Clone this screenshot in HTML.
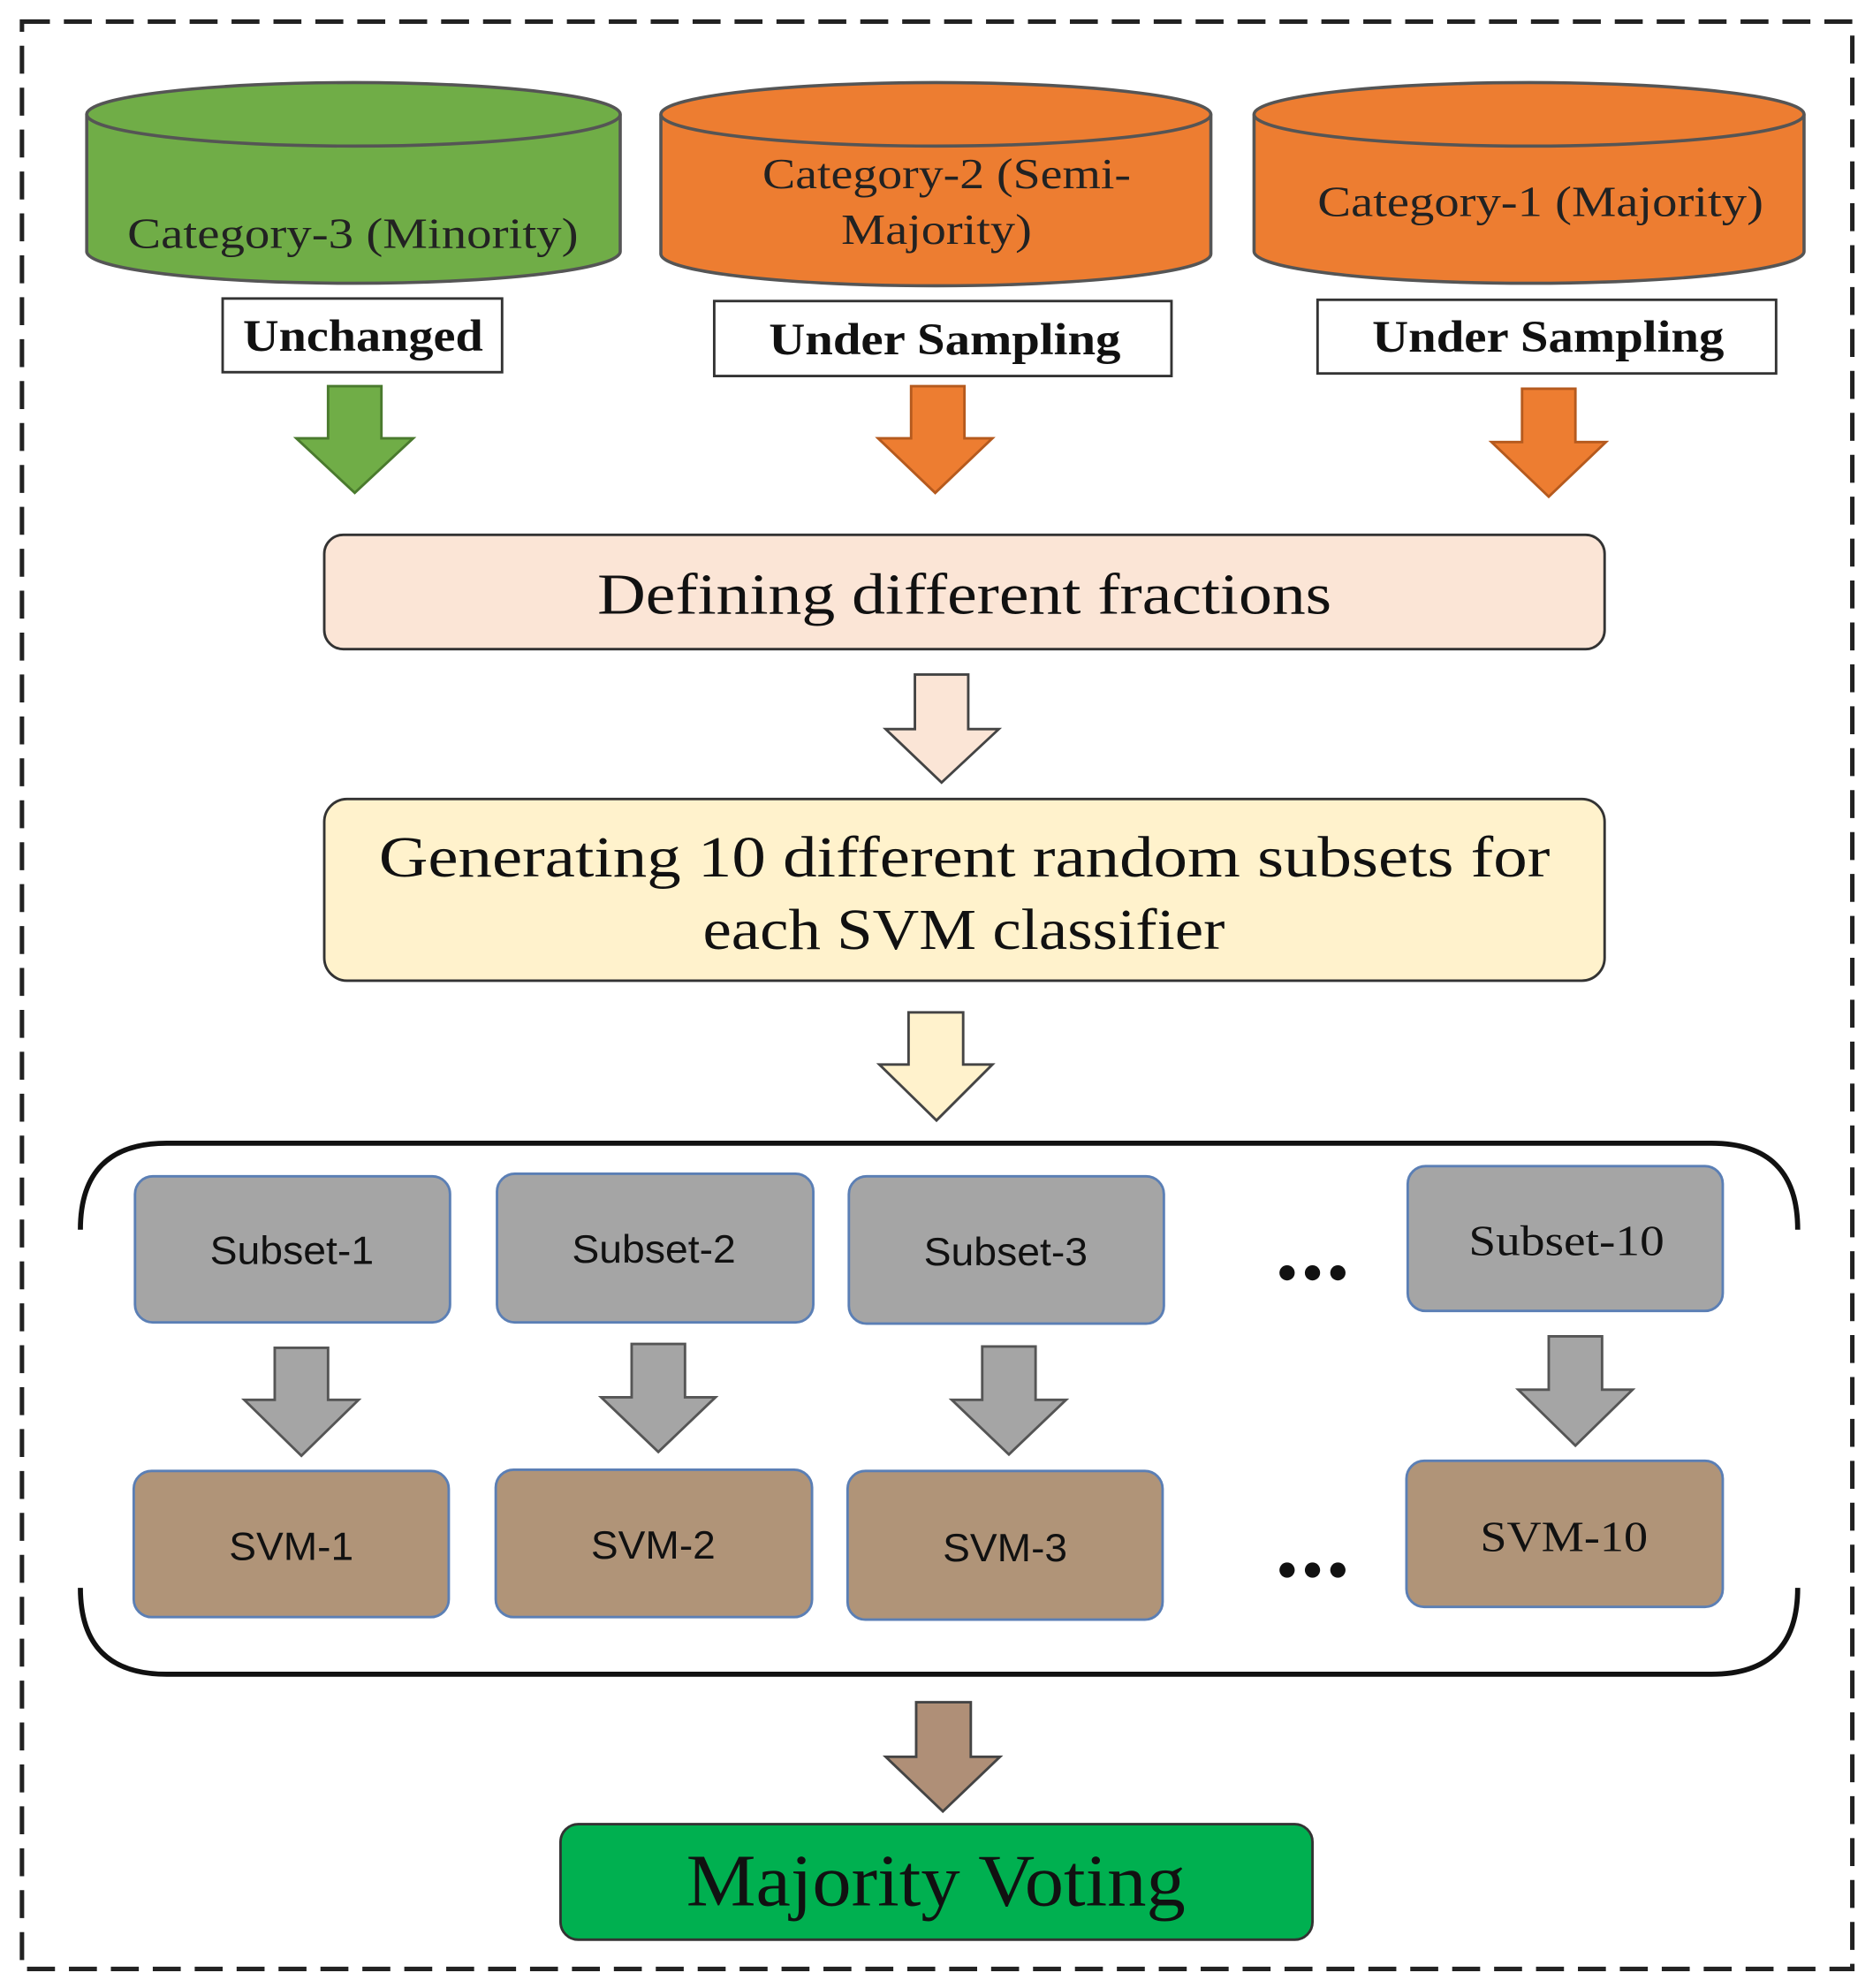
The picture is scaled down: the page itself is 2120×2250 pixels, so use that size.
<!DOCTYPE html>
<html><head><meta charset="utf-8"><style>
html,body{margin:0;padding:0;background:#fff}
svg{display:block}
.serif{font-family:"Liberation Serif","DejaVu Serif",serif}
.sans{font-family:"Liberation Sans","DejaVu Sans",sans-serif}
</style></head><body>
<svg width="2120" height="2250" viewBox="0 0 1474 1565" xmlns="http://www.w3.org/2000/svg">
<rect x="17" y="17" width="1441" height="1533" fill="none" stroke="#222" stroke-width="3.5" stroke-dasharray="22,11"/>

<g stroke="#555" stroke-width="2.5">
<path d="M68,90 L68,198 A210,25 0 0 0 488,198 L488,90" fill="#70AD47"/>
<ellipse cx="278" cy="90" rx="210" ry="25" fill="#70AD47"/>
<path d="M520,90 L520,200 A216.5,25 0 0 0 953,200 L953,90" fill="#ED7D31"/>
<ellipse cx="736.5" cy="90" rx="216.5" ry="25" fill="#ED7D31"/>
<path d="M987,90 L987,198 A216.5,25 0 0 0 1420,198 L1420,90" fill="#ED7D31"/>
<ellipse cx="1203.5" cy="90" rx="216.5" ry="25" fill="#ED7D31"/>
</g>
<g class="serif" font-size="34" fill="#222" lengthAdjust="spacingAndGlyphs">
<text x="100" y="195" textLength="355" lengthAdjust="spacingAndGlyphs">Category-3 (Minority)</text>
<text x="600" y="148" textLength="290" lengthAdjust="spacingAndGlyphs">Category-2 (Semi-</text>
<text x="662" y="192" textLength="150" lengthAdjust="spacingAndGlyphs">Majority)</text>
<text x="1037" y="170" textLength="351" lengthAdjust="spacingAndGlyphs">Category-1 (Majority)</text>
</g>

<g fill="#fff" stroke="#333" stroke-width="2">
<rect x="175" y="235" width="220" height="58"/>
<rect x="562" y="237" width="360" height="59"/>
<rect x="1037" y="236" width="361" height="58"/>
</g>
<g class="serif" font-size="35" font-weight="bold" fill="#111">
<text x="191" y="276" textLength="189" lengthAdjust="spacingAndGlyphs">Unchanged</text>
<text x="605" y="279" textLength="277" lengthAdjust="spacingAndGlyphs">Under Sampling</text>
<text x="1080" y="277" textLength="277" lengthAdjust="spacingAndGlyphs">Under Sampling</text>
</g>

<g stroke-width="2" stroke-linejoin="miter">
<path d="M258,304 H300 V345 H325 L279,388 L233,345 H258 Z" fill="#70AD47" stroke="#4a7a2e"/>
<path d="M717,304 H759 V345 H781 L736,388 L691,345 H717 Z" fill="#ED7D31" stroke="#b55a1e"/>
<path d="M1198,306 H1240 V348 H1264 L1219,391 L1174,348 H1198 Z" fill="#ED7D31" stroke="#b55a1e"/>
<path d="M720,531 H762 V574 H786 L741,616 L697,574 H720 Z" fill="#FBE5D6" stroke="#444"/>
<path d="M715,797 H758 V838 H781 L737,882 L692,838 H715 Z" fill="#FFF2CC" stroke="#444"/>
<path d="M216,1061 H258 V1102 H282 L237,1146 L192,1102 H216 Z" fill="#A5A5A5" stroke="#555"/>
<path d="M497,1058 H539 V1100 H563 L518,1143 L473,1100 H497 Z" fill="#A5A5A5" stroke="#555"/>
<path d="M773,1060 H815 V1102 H839 L794,1145 L749,1102 H773 Z" fill="#A5A5A5" stroke="#555"/>
<path d="M1219,1052 H1261 V1094 H1285 L1240,1138 L1195,1094 H1219 Z" fill="#A5A5A5" stroke="#555"/>
<path d="M721,1340 H764 V1383 H787 L742,1426 L697,1383 H721 Z" fill="#AF8F77" stroke="#444"/>
</g>

<rect x="255" y="421" width="1008" height="90" rx="15" fill="#FBE5D6" stroke="#333" stroke-width="2"/>
<text class="serif" x="470" y="483" font-size="46" textLength="578" lengthAdjust="spacingAndGlyphs" fill="#111">Defining different fractions</text>
<rect x="255" y="629" width="1008" height="143" rx="18" fill="#FFF2CC" stroke="#333" stroke-width="2"/>
<g class="serif" font-size="46" fill="#111">
<text x="298" y="690" textLength="922" lengthAdjust="spacingAndGlyphs">Generating 10 different random subsets for</text>
<text x="553" y="747" textLength="411" lengthAdjust="spacingAndGlyphs">each SVM classifier</text>
</g>

<path d="M63,968 Q63,900 131,900 H1347 Q1415,900 1415,968" fill="none" stroke="#111" stroke-width="4"/>
<path d="M63,1250 Q63,1318 131,1318 H1347 Q1415,1318 1415,1250" fill="none" stroke="#111" stroke-width="4"/>

<g fill="#A5A5A5" stroke="#5B7FB5" stroke-width="2">
<rect x="106" y="926" width="248" height="115" rx="14"/>
<rect x="391" y="924" width="249" height="117" rx="14"/>
<rect x="668" y="926" width="248" height="116" rx="14"/>
<rect x="1108" y="918" width="248" height="114" rx="14"/>
</g>
<g fill="#B09478" stroke="#5B7FB5" stroke-width="2">
<rect x="105" y="1158" width="248" height="115" rx="14"/>
<rect x="390" y="1157" width="249" height="116" rx="14"/>
<rect x="667" y="1158" width="248" height="117" rx="14"/>
<rect x="1107" y="1150" width="249" height="115" rx="14"/>
</g>
<g class="sans" font-size="31" fill="#111">
<text x="165" y="995" textLength="129" lengthAdjust="spacingAndGlyphs">Subset-1</text>
<text x="450" y="994" textLength="129" lengthAdjust="spacingAndGlyphs">Subset-2</text>
<text x="727" y="996" textLength="129" lengthAdjust="spacingAndGlyphs">Subset-3</text>
<text x="180" y="1228" textLength="98" lengthAdjust="spacingAndGlyphs">SVM-1</text>
<text x="465" y="1227" textLength="98" lengthAdjust="spacingAndGlyphs">SVM-2</text>
<text x="742" y="1229" textLength="98" lengthAdjust="spacingAndGlyphs">SVM-3</text>
</g>
<g class="serif" font-size="34" fill="#111">
<text x="1156" y="988" textLength="154" lengthAdjust="spacingAndGlyphs">Subset-10</text>
<text x="1165" y="1221" textLength="132" lengthAdjust="spacingAndGlyphs">SVM-10</text>
</g>
<g fill="#111">
<circle cx="1013" cy="1002" r="6"/><circle cx="1033" cy="1002" r="6"/><circle cx="1053" cy="1002" r="6"/>
<circle cx="1013" cy="1236" r="6"/><circle cx="1033" cy="1236" r="6"/><circle cx="1053" cy="1236" r="6"/>
</g>

<rect x="441" y="1436" width="592" height="91" rx="14" fill="#00B050" stroke="#333" stroke-width="2"/>
<text class="serif" x="540" y="1500" font-size="58" textLength="393" lengthAdjust="spacingAndGlyphs" fill="#111">Majority Voting</text>
</svg>
</body></html>
